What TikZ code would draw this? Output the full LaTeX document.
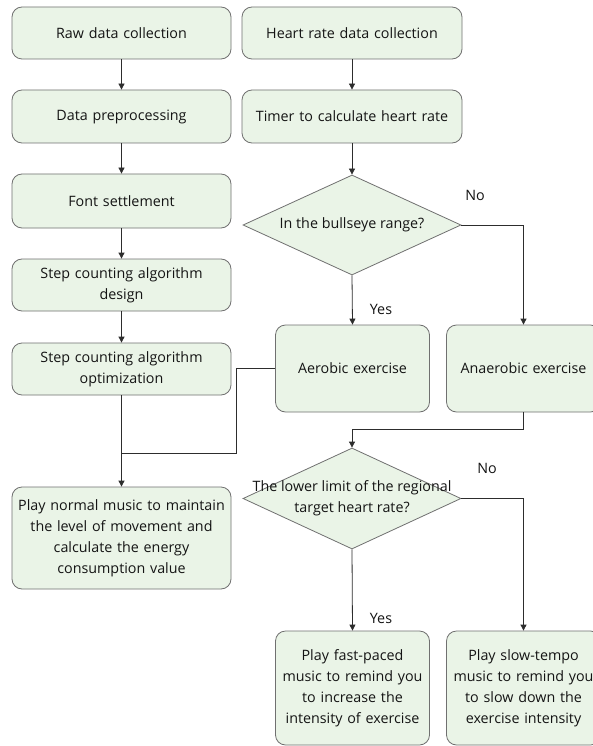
\documentclass[tikz,border=0pt]{standalone}
\usepackage{fontspec}
\setmainfont{Open Sans}
\usetikzlibrary{arrows.meta,shapes.geometric,calc}
\definecolor{boxfill}{RGB}{234,244,231}
\definecolor{boxline}{RGB}{112,112,112}
\definecolor{wire}{RGB}{45,45,45}
\definecolor{ink}{RGB}{20,20,20}
\begin{document}
\begin{tikzpicture}[x=1pt,y=-1pt,
  every node/.style={font=\fontsize{14.3}{21}\selectfont, text=ink},
  procbox/.style={draw=boxline, fill=boxfill, rounded corners=10pt, line width=0.8pt,
    align=center, inner sep=2pt},
  leftbox/.style={procbox, minimum width=219pt, text width=214pt},
  rightbox/.style={procbox, minimum width=220pt, text width=214pt},
  smallbox/.style={procbox, minimum width=153pt, text width=150pt},
  decision/.style={diamond, draw=boxline, fill=boxfill, line width=0.8pt, inner sep=0pt,
    minimum width=218pt, minimum height=100pt},
  flow/.style={draw=wire, line width=0.8pt},
  arrow/.style={flow, -{Triangle[width=6pt,length=6pt]}},
  branch/.style={font=\fontsize{14.3}{16}\selectfont}]
\useasboundingbox (0,0) rectangle (593,746);
\clip (0,0) rectangle (593,746);
\fill[white] (0,0) rectangle (593,746);

% left column: step counting
\node[leftbox, minimum height=52pt] (raw) at (121.5,33) {Raw data collection};
\node[leftbox, minimum height=53pt] (prep) at (121.5,116.5) {Data preprocessing};
\node[leftbox, minimum height=54pt] (font) at (121.5,201) {Font settlement};
\node[leftbox, minimum height=52pt] (design) at (121.5,285) {Step counting algorithm\\design};
\node[leftbox, minimum height=52pt] (opt) at (121.5,369) {Step counting algorithm\\optimization};
\node[leftbox, minimum height=102pt] (normal) at (121.5,538) {Play normal music to maintain\\the level of movement and\\calculate the energy\\consumption value};

% right column: heart rate
\node[rightbox, minimum height=52pt] (hr) at (352,33) {Heart rate data collection};
\node[rightbox, minimum height=53pt] (timer) at (352,116.5) {Timer to calculate heart rate};
\node[decision] (d1) at (352,225) {};
\node at (d1.center) {In the bullseye range?};
\node[smallbox, minimum height=87pt] (aer) at (352.5,368.5) {Aerobic exercise};
\node[smallbox, minimum height=87pt] (anaer) at (523.5,368.5) {Anaerobic exercise};
\node[decision, minimum height=101pt] (d2) at (352,498.5) {};
\node[align=center] at (d2.center) {The lower limit of the regional\\target heart rate?};
\node[smallbox, minimum height=114pt] (fast) at (352.5,688) {Play fast-paced\\music to remind you\\to increase the\\intensity of exercise};
\node[smallbox, minimum height=114pt] (slow) at (523.5,688) {Play slow-tempo\\music to remind you\\to slow down the\\exercise intensity};

% branch labels
\node[branch] (no1) at (475,195) {No};
\node[branch] (yes1) at (381,309) {Yes};
\node[branch] (no2) at (487,468) {No};
\node[branch] (yes2) at (381,618) {Yes};

% junction points
\coordinate (merge) at (121.5,453);
\coordinate (bend) at (236,453);
\coordinate (join) at (523.5,429);

% connectors
\draw[arrow] (raw) -- (prep);
\draw[arrow] (prep) -- (font);
\draw[arrow] (font) -- (design);
\draw[arrow] (design) -- (opt);
\draw[arrow] (opt) -- (normal);
\draw[arrow] (hr) -- (timer);
\draw[arrow] (timer) -- (d1.north);
\draw[arrow] (d1.south) -- (aer.north);
\draw[arrow] (d1.east) -| (anaer.north);
\draw[flow] (aer.west) -| (bend) -- (merge);
\draw[arrow] (anaer.south) -- (join) -| (d2.north);
\draw[arrow] (d2.south) -- (fast.north);
\draw[arrow] (d2.east) -| (slow.north);
\end{tikzpicture}
\end{document}
